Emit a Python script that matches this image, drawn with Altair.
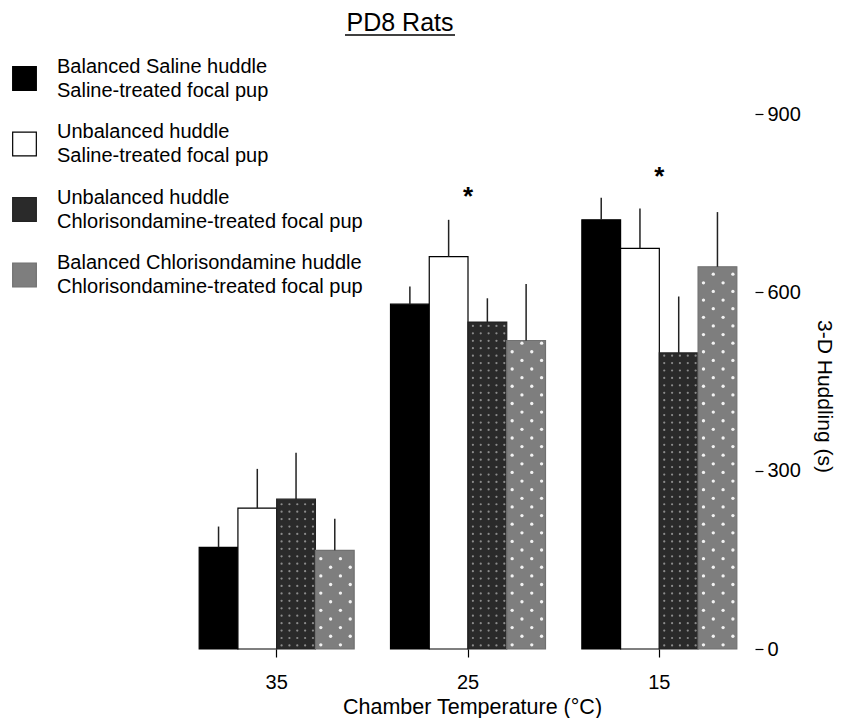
import altair as alt
import pandas as pd

# ---- data ----
temps = ["35", "25", "15"]
series = [
    "Balanced Saline huddle|Saline-treated focal pup",
    "Unbalanced huddle|Saline-treated focal pup",
    "Unbalanced huddle|Chlorisondamine-treated focal pup",
    "Balanced Chlorisondamine huddle|Chlorisondamine-treated focal pup",
]
mean_bal_saline = [171, 580, 722]
mean_unbal_saline = [237, 660, 674]
mean_unbal_chlor = [252, 550, 498]
mean_bal_chlor = [166, 519, 643]

sem_bal_saline = [35, 30, 37]
sem_unbal_saline = [66, 62, 67]
sem_unbal_chlor = [78, 40, 95]
sem_bal_chlor = [53, 95, 92]

star_temps = ["25", "15"]
star_level = [772, 805]

y_ticks = [0, 300, 600, 900]

fills = ["#000000", "#ffffff", "#2a2a2a", "#7e7e7e"]
strokes = ["#000000", "#000000", "#222222", "#707070"]

FONT = "Liberation Sans"

all_means = [mean_bal_saline, mean_unbal_saline, mean_unbal_chlor, mean_bal_chlor]
all_sems = [sem_bal_saline, sem_unbal_saline, sem_unbal_chlor, sem_bal_chlor]

rows = []
for s, means, sems in zip(series, all_means, all_sems):
    for t, m, e in zip(temps, means, sems):
        rows.append({"temp": t, "series": s, "mean": m, "top": m + e})
df = pd.DataFrame(rows)

# ---- fill texture (dot screens of the two hatched series), derived from bar heights ----
SLOTS = 20
slot_domain = [f"{si}-{k}" for si in range(len(series)) for k in range(SLOTS)]
tex = []
# dark series: regular dot grid
for t, m in zip(temps, mean_unbal_chlor):
    v, r = 6.0, 0
    while v < m - 4:
        for k in [2, 6, 10, 14, 18]:
            tex.append({"temp": t, "slot": f"2-{k}", "v": v, "kind": "dark"})
        v += 12.5
        r += 1
# light series: staggered white spots
for t, m in zip(temps, mean_bal_chlor):
    v, r = 7.0, 0
    while v < m - 4:
        cols = [2, 12] if r % 2 == 0 else [7, 17]
        for k in cols:
            tex.append({"temp": t, "slot": f"3-{k}", "v": v, "kind": "light"})
        v += 14.5
        r += 1
tex_df = pd.DataFrame(tex)

stars = pd.DataFrame({"temp": star_temps, "y": star_level, "t": ["*"] * len(star_temps)})
title_df = pd.DataFrame({"t": ["PD8 Rats"]})

x_enc = alt.X(
    "temp:N",
    sort=temps,
    scale=alt.Scale(domain=temps, paddingInner=0.19, paddingOuter=0.095),
    axis=alt.Axis(
        orient="bottom",
        domain=False,
        ticks=True,
        tickSize=8,
        tickColor="black",
        tickWidth=1.2,
        labelAngle=0,
        labelFontSize=20,
        labelPadding=15,
        labelColor="black",
        labelFont=FONT,
        title="Chamber Temperature (°C)",
        titleFont=FONT,
        titleFontSize=21.5,
        titleFontWeight="normal",
        titleColor="black",
        titleBaseline="alphabetic",
        titleX=291,
        titleY=64,
    ),
)
xo_enc = alt.XOffset("series:N", sort=series, scale=alt.Scale(domain=series, paddingInner=0, paddingOuter=0))
y_scale = alt.Scale(domain=[0, 900], nice=False, zero=True)

bars = alt.Chart(df).mark_bar(strokeWidth=1.2).encode(
    x=x_enc,
    xOffset=xo_enc,
    y=alt.Y(
        "mean:Q",
        scale=y_scale,
        axis=alt.Axis(
            orient="right",
            values=y_ticks,
            domain=False,
            grid=False,
            tickSize=8,
            tickColor="black",
            tickWidth=1.2,
            labelFontSize=20,
            labelPadding=4,
            labelColor="black",
            labelFont=FONT,
            title="3-D Huddling (s)",
            titleFont=FONT,
            titleFontSize=21,
            titleFontWeight="normal",
            titleColor="black",
            titleAngle=90,
            titleBaseline="alphabetic",
            titleX=62,
            titleY=282,
        ),
    ),
    fill=alt.Fill(
        "series:N",
        sort=series,
        scale=alt.Scale(domain=series, range=fills),
        legend=alt.Legend(
            title=None,
            orient="none",
            legendX=-169,
            legendY=-48,
            padding=0,
            symbolType="square",
            symbolSize=560,
            symbolStrokeColor="black",
            symbolStrokeWidth=1.2,
            labelFontSize=20,
            labelFont=FONT,
            labelColor="black",
            labelOffset=20,
            labelLimit=500,
            labelBaseline="line-bottom",
            rowPadding=20.5,
            labelExpr="split(datum.label, '|')",
        ),
    ),
    stroke=alt.Stroke("series:N", sort=series, scale=alt.Scale(domain=series, range=strokes), legend=None),
)

texture = alt.Chart(tex_df).mark_circle(opacity=1).encode(
    x=alt.X("temp:N", sort=temps),
    xOffset=alt.XOffset("slot:N", scale=alt.Scale(domain=slot_domain, paddingInner=0, paddingOuter=0)),
    y=alt.Y("v:Q"),
    color=alt.Color("kind:N", scale=alt.Scale(domain=["dark", "light"], range=["#8c8c8c", "#f2f2f2"]), legend=None),
    size=alt.Size("kind:N", scale=alt.Scale(domain=["dark", "light"], range=[5, 11]), legend=None),
)

errs = alt.Chart(df).mark_rule(color="#222222", strokeWidth=1.5).encode(
    x=alt.X("temp:N", sort=temps),
    xOffset=alt.XOffset("series:N", sort=series),
    y=alt.Y("mean:Q"),
    y2="top:Q",
)

star_marks = alt.Chart(stars).mark_text(
    fontSize=26, font=FONT, fontWeight="bold", baseline="alphabetic", dy=15, color="black"
).encode(
    x=alt.X("temp:N", sort=temps),
    y=alt.Y("y:Q"),
    text="t:N",
)

title_text = alt.Chart(title_df).mark_text(
    fontSize=25, font=FONT, baseline="alphabetic", align="center", color="black"
).encode(x=alt.value(219), y=alt.value(-83), text="t:N")

underline = alt.Chart(title_df).mark_rule(color="black", strokeWidth=1.6).encode(
    x=alt.value(164), x2=alt.value(274), y=alt.value(-79)
)

chart = (
    alt.layer(bars, texture, errs, star_marks, title_text, underline)
    .resolve_scale(xOffset="independent")
    .properties(
        width=574,
        height=535,
        autosize=alt.AutoSizeParams(type="none"),
        padding={"left": 173, "top": 106, "right": 81, "bottom": 69},
        background="white",
    )
    .configure(style={"guide-label": {"lineHeight": 24}})
    .configure_view(stroke=None)
)

chart.save("out.html", embed_options={"renderer": "svg", "actions": False})
